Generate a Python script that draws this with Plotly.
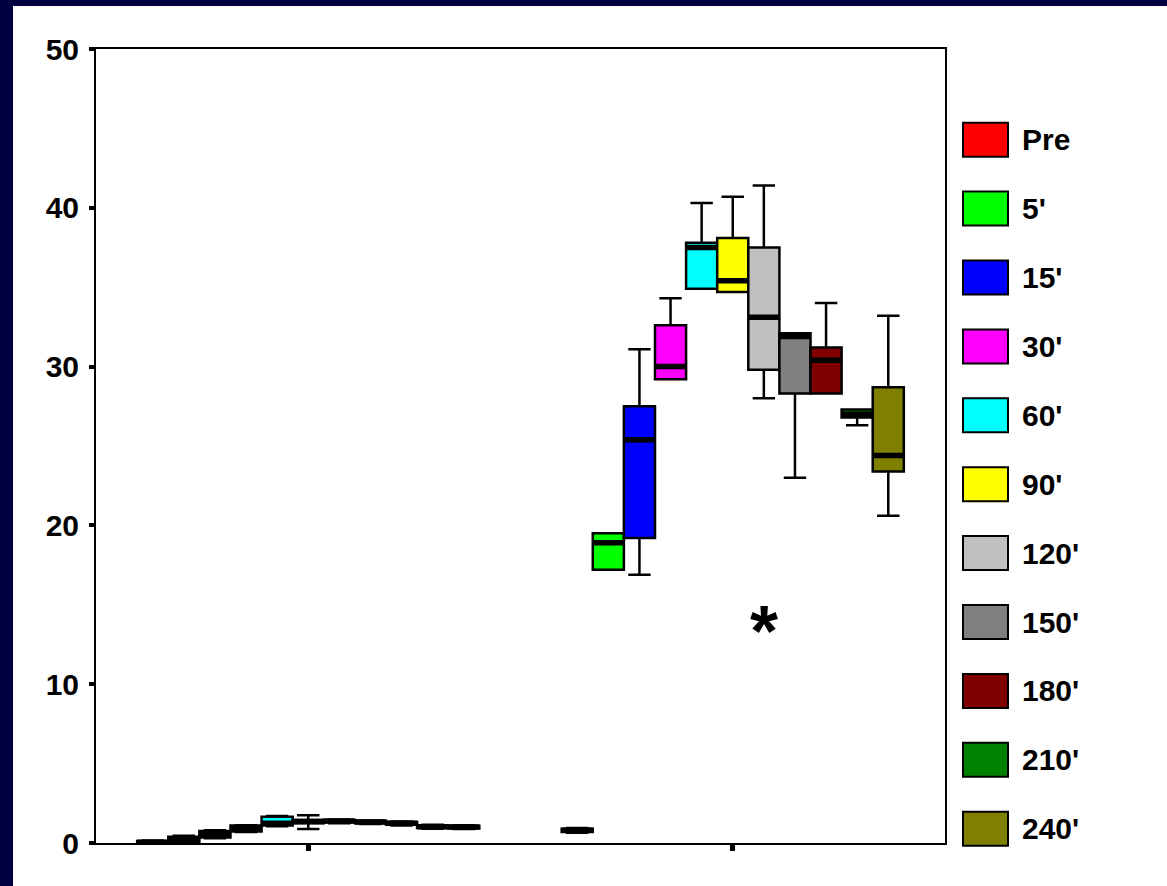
import plotly.graph_objects as go

# ---------------- data ----------------
categories = ["Group 1", "Group 2"]
series = ["Pre", "5'", "15'", "30'", "60'", "90'", "120'", "150'", "180'", "210'", "240'"]
colors = ["#FF0000", "#00FF00", "#0000FF", "#FF00FF", "#00FFFF", "#FFFF00",
          "#C0C0C0", "#808080", "#800000", "#008000", "#808000"]

# Group 1 statistics (per series)
low_1 = [0.00, 0.05, 0.30, 0.70, 1.05, 0.88, 1.25, 1.20, 1.10, 0.90, 0.88]
q1_1 = [0.00, 0.08, 0.35, 0.72, 1.10, 1.25, 1.30, 1.25, 1.15, 0.95, 0.92]
med_1 = [0.05, 0.25, 0.55, 0.90, 1.25, 1.35, 1.38, 1.32, 1.25, 1.02, 1.00]
q3_1 = [0.12, 0.40, 0.75, 1.10, 1.65, 1.45, 1.45, 1.40, 1.32, 1.10, 1.08]
up_1 = [0.15, 0.45, 0.80, 1.12, 1.70, 1.75, 1.48, 1.42, 1.35, 1.15, 1.12]

# Group 2 statistics (per series)
low_2 = [0.65, 17.2, 16.9, 29.2, 34.9, 34.7, 28.0, 23.0, 28.3, 26.3, 20.6]
q1_2 = [0.70, 17.2, 19.2, 29.2, 34.9, 34.7, 29.8, 28.3, 28.3, 26.8, 23.4]
med_2 = [0.80, 18.9, 25.4, 30.0, 37.5, 35.4, 33.1, 31.9, 30.4, 27.0, 24.4]
q3_2 = [0.90, 19.5, 27.5, 32.6, 37.8, 38.1, 37.5, 32.1, 31.2, 27.3, 28.7]
up_2 = [0.95, 19.5, 31.1, 34.3, 40.3, 40.7, 41.4, 32.1, 34.0, 27.3, 33.2]

# outlier
outlier_series = "120'"
outlier_category = "Group 2"
outlier_value = 13.9

y_ticks = [0, 10, 20, 30, 40, 50]

# ---------------- layout constants ----------------
W, H = 1167, 886
L, R, T, B = 96, 945, 49, 843
BOXGAP = 0.194
FONT = "Liberation Sans, Arial, sans-serif"


def px_x(px):
    return (px - L) / (R - L)


def px_y(py):
    return (B - py) / (B - T)


fig = go.Figure()

for i, name in enumerate(series):
    fig.add_trace(go.Box(
        name=name, x=categories,
        q1=[q1_1[i], q1_2[i]], median=[med_1[i], med_2[i]], q3=[q3_1[i], q3_2[i]],
        lowerfence=[low_1[i], low_2[i]], upperfence=[up_1[i], up_2[i]],
        fillcolor=colors[i], line=dict(color="black", width=2.5),
        whiskerwidth=0.72, offsetgroup=name, alignmentgroup="a",
        boxpoints=False, showlegend=False, hoverinfo="skip",
    ))
    # thick median line drawn on top, in the same slot
    fig.add_trace(go.Box(
        name=name, x=categories,
        q1=[med_1[i], med_2[i]], median=[med_1[i], med_2[i]], q3=[med_1[i], med_2[i]],
        lowerfence=[med_1[i], med_2[i]], upperfence=[med_1[i], med_2[i]],
        fillcolor="black", line=dict(color="black", width=5.5),
        whiskerwidth=0, offsetgroup=name, alignmentgroup="a",
        boxpoints=False, showlegend=False, hoverinfo="skip",
    ))

# outlier asterisk, positioned in the slot of its series
n = len(series)
slot = (1 - BOXGAP) / n
ox = categories.index(outlier_category) + (series.index(outlier_series) - (n - 1) / 2) * slot

annotations = [dict(
    x=ox, y=outlier_value, xref="x", yref="y", text="*", showarrow=False,
    font=dict(family=FONT, size=72, color="black", weight="bold"),
    xanchor="center", yanchor="middle", yshift=-9,
)]

# custom legend
shapes = [dict(type="rect", xref="paper", yref="paper",
               x0=px_x(13), x1=px_x(W + 5), y0=px_y(H + 5), y1=px_y(6),
               fillcolor="white", line=dict(width=0), layer="below")]
for i, name in enumerate(series):
    cy = 139.7 + i * 68.9
    shapes.append(dict(type="rect", xref="paper", yref="paper",
                       x0=px_x(963), x1=px_x(1008), y0=px_y(cy + 17), y1=px_y(cy - 17),
                       fillcolor=colors[i], line=dict(color="black", width=2)))
    annotations.append(dict(x=px_x(1020), y=px_y(cy), xref="paper", yref="paper",
                            text=name, showarrow=False, xanchor="left", yanchor="middle",
                            font=dict(family=FONT, size=30, color="black", weight="bold")))

fig.update_layout(
    width=W, height=H,
    margin=dict(l=L, r=W - R, t=T, b=H - B, pad=0),
    paper_bgcolor="#000040", plot_bgcolor="white",
    boxmode="group", boxgap=BOXGAP, boxgroupgap=0,
    showlegend=False,
    shapes=shapes, annotations=annotations,
    xaxis=dict(type="category", categoryorder="array", categoryarray=categories,
               range=[-0.5, 1.5], showline=True, linecolor="black", linewidth=2, mirror=True,
               ticks="outside", ticklen=6, tickwidth=5, tickcolor="black",
               showticklabels=False, showgrid=False, zeroline=False),
    yaxis=dict(range=[0, 50], tickvals=y_ticks, ticktext=[str(v) for v in y_ticks],
               showline=True, linecolor="black", linewidth=2, mirror=True,
               ticks="outside", ticklen=5, tickwidth=4, tickcolor="black",
               ticklabelstandoff=4,
               tickfont=dict(family=FONT, size=30, color="black", weight="bold"),
               showgrid=False, zeroline=False),
)

fig.write_html("out.html", config={"displayModeBar": False},
               post_script="document.body.style.margin='0';document.body.style.overflow='hidden';")
